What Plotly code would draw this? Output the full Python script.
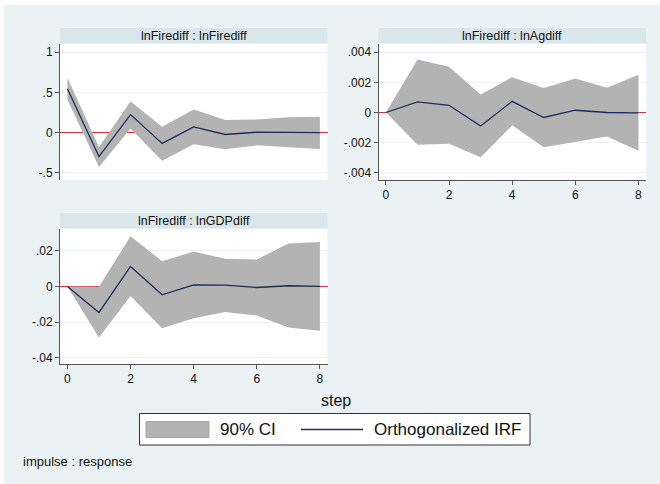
import plotly.graph_objects as go

W, H = 660, 484

steps = [0, 1, 2, 3, 4, 5, 6, 7, 8]

# Panel 1: lnFirediff : lnFirediff
irf_fire = [0.545, -0.30, 0.222, -0.136, 0.07, -0.025, 0.004, 0.0, -0.002]
up_fire = [0.68, -0.18, 0.385, 0.07, 0.285, 0.155, 0.162, 0.19, 0.195]
lo_fire = [0.41, -0.43, 0.05, -0.35, -0.145, -0.21, -0.16, -0.185, -0.205]

# Panel 2: lnFirediff : lnAgdiff
irf_ag = [0.0, 0.0007, 0.00048, -0.0009, 0.00074, -0.00033, 0.00015, 0.0, -0.00002]
up_ag = [0.0, 0.00352, 0.00304, 0.0012, 0.00234, 0.00162, 0.00225, 0.00164, 0.00251]
lo_ag = [0.0, -0.00214, -0.00208, -0.00297, -0.00085, -0.0023, -0.00197, -0.0016, -0.00254]

# Panel 3: lnFirediff : lnGDPdiff
irf_gdp = [0.0, -0.0146, 0.0112, -0.0047, 0.0009, 0.0007, -0.0006, 0.0004, 0.0]
up_gdp = [0.0, -0.0002, 0.0282, 0.0142, 0.0196, 0.0155, 0.0151, 0.0241, 0.0249]
lo_gdp = [0.0, -0.0286, -0.0054, -0.0234, -0.0178, -0.0144, -0.0163, -0.023, -0.0249]

titles = ["lnFirediff : lnFirediff", "lnFirediff : lnAgdiff", "lnFirediff : lnGDPdiff"]

yticks_fire = [-0.5, 0, 0.5, 1]
ytext_fire = ["-.5", "0", ".5", "1"]
yticks_ag = [-0.004, -0.002, 0, 0.002, 0.004]
ytext_ag = ["-.004", "-.002", "0", ".002", ".004"]
yticks_gdp = [-0.04, -0.02, 0, 0.02]
ytext_gdp = ["-.04", "-.02", "0", ".02"]
xticks = [0, 2, 4, 6, 8]
xtext = ["0", "2", "4", "6", "8"]

legend_labels = ["90% CI", "Orthogonalized IRF"]

BG = "#eaf2f3"
STRIP = "#d9e6ec"
BAND = "#b3b3b3"
LINE = "#1c2d5c"
RED = "#e2303c"
AX = "#555555"
TXT = "#111111"
FONT = "Liberation Sans, Arial, sans-serif"


def fx(px):
    return px / W


def fy(py):
    return 1 - py / H


# pixel geometry of the panels: (left, right, top, bottom)
panels = [
    (60, 327.5, 43.5, 180),
    (378.5, 646, 43.5, 180),
    (60, 327.5, 228.5, 364),
]
strip_h = 15.5

fig = go.Figure()

data = [
    (irf_fire, up_fire, lo_fire),
    (irf_ag, up_ag, lo_ag),
    (irf_gdp, up_gdp, lo_gdp),
]

for i, (irf, up, lo) in enumerate(data):
    xa = "x" if i == 0 else f"x{i+1}"
    ya = "y" if i == 0 else f"y{i+1}"
    fig.add_trace(go.Scatter(
        x=steps + steps[::-1], y=up + lo[::-1], fill="toself",
        fillcolor=BAND, line=dict(width=0, color=BAND), mode="lines",
        xaxis=xa, yaxis=ya, showlegend=False, hoverinfo="skip"))
    fig.add_trace(go.Scatter(
        x=steps, y=irf, mode="lines", line=dict(color=LINE, width=1.3),
        xaxis=xa, yaxis=ya, showlegend=False))

yranges = [[-0.591, 1.107], [-0.00448, 0.00458], [-0.0435, 0.0325]]
yt = [(yticks_fire, ytext_fire), (yticks_ag, ytext_ag), (yticks_gdp, ytext_gdp)]
xrange_ = [-0.235, 8.24]

layout = dict(
    width=W, height=H,
    margin=dict(l=0, r=0, t=0, b=0),
    paper_bgcolor=BG, plot_bgcolor="white",
    font=dict(family=FONT, size=12, color=TXT),
    showlegend=False,
)

for i, (l, r, t, b) in enumerate(panels):
    xk = "xaxis" if i == 0 else f"xaxis{i+1}"
    yk = "yaxis" if i == 0 else f"yaxis{i+1}"
    ya = "y" if i == 0 else f"y{i+1}"
    xa = "x" if i == 0 else f"x{i+1}"
    show_x = i != 0
    layout[xk] = dict(
        domain=[fx(l), fx(r)], anchor=ya, range=xrange_,
        showgrid=False, zeroline=False,
        showline=show_x, linecolor=AX, linewidth=1,
        ticks="outside" if show_x else "", ticklen=4, tickcolor=AX,
        tickvals=xticks, ticktext=xtext, showticklabels=show_x,
        tickfont=dict(size=12, color=TXT),
    )
    layout[yk] = dict(
        domain=[fy(b), fy(t)], anchor=xa, range=yranges[i],
        showgrid=True, gridcolor=BG, gridwidth=1,
        zeroline=True, zerolinecolor=RED, zerolinewidth=1,
        showline=True, linecolor=AX, linewidth=1,
        ticks="outside", ticklen=4, tickcolor=AX,
        tickvals=yt[i][0], ticktext=yt[i][1],
        tickfont=dict(size=12, color=TXT),
    )

fig.update_layout(**layout)

shapes = []
annotations = []

# white outer edge (top and left)
shapes.append(dict(type="rect", xref="paper", yref="paper", x0=0, x1=1,
                   y0=fy(5), y1=1, fillcolor="white", line=dict(width=0), layer="below"))
shapes.append(dict(type="rect", xref="paper", yref="paper", x0=0, x1=fx(4),
                   y0=0, y1=1, fillcolor="white", line=dict(width=0), layer="below"))

# title strips
for i, (l, r, t, b) in enumerate(panels):
    shapes.append(dict(type="rect", xref="paper", yref="paper",
                       x0=fx(l), x1=fx(r), y0=fy(t), y1=fy(t - strip_h),
                       fillcolor=STRIP, line=dict(width=0)))
    annotations.append(dict(text=titles[i], xref="paper", yref="paper",
                            x=fx((l + r) / 2), y=fy(t - strip_h / 2),
                            xanchor="center", yanchor="middle", showarrow=False,
                            font=dict(size=12.5, color=TXT)))

# x-axis title
annotations.append(dict(text="step", xref="paper", yref="paper",
                        x=fx(336), y=fy(400), xanchor="center", yanchor="middle",
                        showarrow=False, font=dict(size=16, color=TXT)))

# legend box
shapes.append(dict(type="rect", xref="paper", yref="paper",
                   x0=fx(139.5), x1=fx(530), y0=fy(445), y1=fy(413.5),
                   fillcolor="white", line=dict(color="#333333", width=1)))
shapes.append(dict(type="rect", xref="paper", yref="paper",
                   x0=fx(146), x1=fx(209), y0=fy(437.5), y1=fy(421.5),
                   fillcolor=BAND, line=dict(color="#a8a8a8", width=1)))
annotations.append(dict(text=legend_labels[0], xref="paper", yref="paper",
                        x=fx(218), y=fy(429.5), xanchor="left", yanchor="middle",
                        showarrow=False, font=dict(size=17, color=TXT)))
shapes.append(dict(type="line", xref="paper", yref="paper",
                   x0=fx(301), x1=fx(363), y0=fy(429.5), y1=fy(429.5),
                   line=dict(color=LINE, width=1.3)))
annotations.append(dict(text=legend_labels[1], xref="paper", yref="paper",
                        x=fx(372), y=fy(429.5), xanchor="left", yanchor="middle",
                        showarrow=False, font=dict(size=17, color=TXT)))

# note
annotations.append(dict(text="impulse : response", xref="paper", yref="paper",
                        x=fx(21), y=fy(461), xanchor="left", yanchor="middle",
                        showarrow=False, font=dict(size=13, color=TXT)))

fig.update_layout(shapes=shapes, annotations=annotations)

fig.write_html("out.html",
               config={"displayModeBar": False},
               post_script="document.body.style.margin='0';document.body.style.overflow='hidden';")
